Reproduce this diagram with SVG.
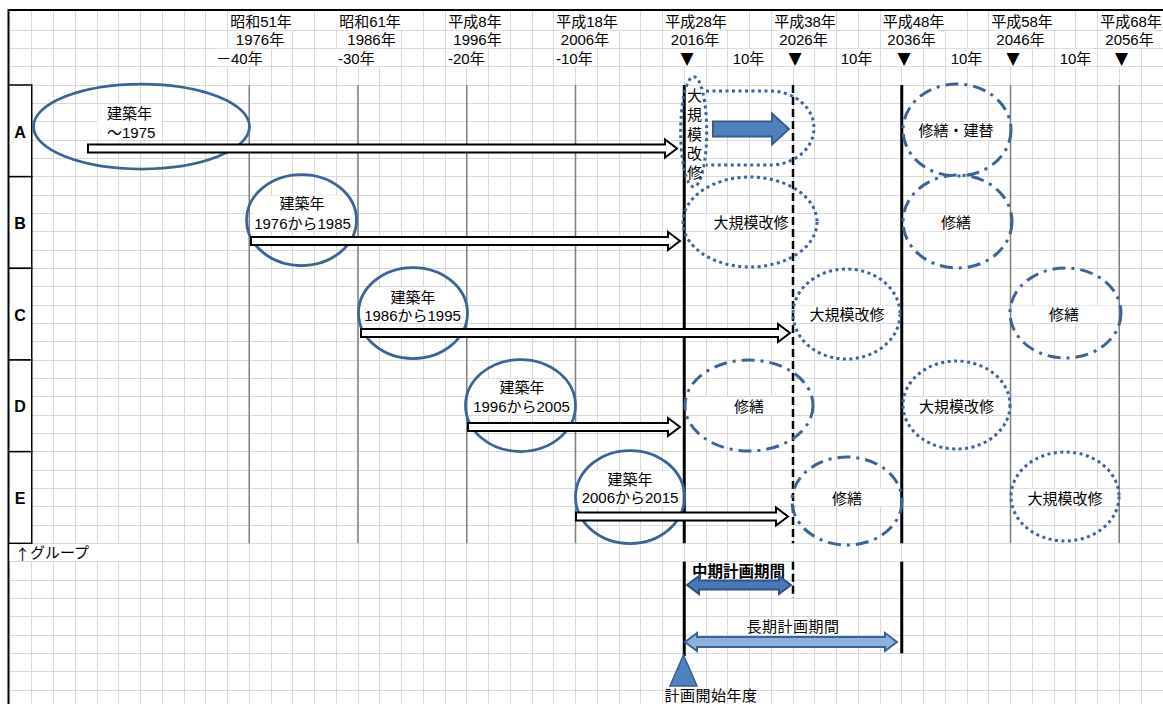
<svg xmlns="http://www.w3.org/2000/svg" width="1163" height="704" viewBox="0 0 1163 704">
<style>
.t{font-family:"Liberation Sans","Noto Sans CJK JP",sans-serif;font-size:15px;fill:#000;dominant-baseline:central}
.tri{font-family:"DejaVu Sans",sans-serif;font-size:17px;fill:#000;text-anchor:middle;dominant-baseline:central}
.m{text-anchor:middle}
.b{font-weight:bold}
.rl{font-family:"Liberation Sans",Arial,sans-serif;font-weight:bold;font-size:16px;text-anchor:middle;dominant-baseline:central}
.bg{fill:#fff;stroke:none}
.grid{stroke:#d9d9d9;stroke-width:1;fill:none}
.gv{stroke:#7f7f7f;stroke-width:1.5}
.bk{stroke:#000;stroke-width:3}
.dsh{stroke:#000;stroke-width:2.5;stroke-dasharray:8 4}
.el{fill:none;stroke:#3b6395;stroke-width:2.75}
.dot{fill:none;stroke:#3b6395;stroke-width:3;stroke-dasharray:3 3.5}
.dd{fill:none;stroke:#3b6395;stroke-width:3;stroke-dasharray:13 6 3 6}
.wa{fill:#fff;stroke:#000;stroke-width:2}
.box{fill:#fff;stroke:#000;stroke-width:1.5}
</style>
<rect width="1163" height="704" fill="#fff"/>
<g id="grid" shape-rendering="crispEdges">
<path class="grid" d="M31.75 10V704M53.5 10V704M75.25 10V704M97 10V704M118.75 10V704M140.5 10V704M162.25 10V704M184 10V704M205.75 10V704M227.5 10V704M249.25 10V704M271 10V704M292.75 10V704M314.5 10V704M336.25 10V704M358 10V704M379.75 10V704M401.5 10V704M423.25 10V704M445 10V704M466.75 10V704M488.5 10V704M510.25 10V704M532 10V704M553.75 10V704M575.5 10V704M597.25 10V704M619 10V704M640.75 10V704M662.5 10V704M684.25 10V704M706 10V704M727.75 10V704M749.5 10V704M771.25 10V704M793 10V704M814.75 10V704M836.5 10V704M858.25 10V704M880 10V704M901.75 10V704M923.5 10V704M945.25 10V704M967 10V704M988.75 10V704M1010.5 10V704M1032.25 10V704M1054 10V704M1075.75 10V704M1097.5 10V704M1119.25 10V704M1141 10V704"/>
<path class="grid" d="M8 30H1163M8 48.33H1163M8 66.67H1163M8 85H1163M8 103.33H1163M8 121.67H1163M8 140H1163M8 158.33H1163M8 176.67H1163M8 195H1163M8 213.33H1163M8 231.67H1163M8 250H1163M8 268.33H1163M8 286.67H1163M8 305H1163M8 323.33H1163M8 341.67H1163M8 360H1163M8 378.33H1163M8 396.67H1163M8 415H1163M8 433.33H1163M8 451.67H1163M8 470H1163M8 488.33H1163M8 506.67H1163M8 525H1163M8 543.33H1163M8 561.67H1163M8 580H1163M8 598.33H1163M8 616.67H1163M8 635H1163M8 653.33H1163M8 671.67H1163M8 690H1163"/>
</g>
<g id="frame">
<line x1="8" y1="10" x2="1163" y2="10" stroke="#000" stroke-width="2"/>
<line x1="8.5" y1="9" x2="8.5" y2="704" stroke="#000" stroke-width="2"/>
</g>
<g id="header">
<g class="hbg">
<rect class="bg" x="228" y="11" width="66" height="18.5"/>
<rect class="bg" x="336" y="11" width="68" height="18.5"/>
<rect class="bg" x="446" y="11" width="58" height="18.5"/>
<rect class="bg" x="555" y="11" width="65" height="18.5"/>
<rect class="bg" x="663" y="11" width="66" height="18.5"/>
<rect class="bg" x="772" y="11" width="64" height="18.5"/>
<rect class="bg" x="881" y="11" width="66" height="18.5"/>
<rect class="bg" x="989" y="11" width="66" height="18.5"/>
<rect class="bg" x="1098" y="11" width="65" height="18.5"/>
<rect class="bg" x="235" y="30.5" width="50" height="17.3"/>
<rect class="bg" x="344" y="30.5" width="55" height="17.3"/>
<rect class="bg" x="453" y="30.5" width="49" height="17.3"/>
<rect class="bg" x="560" y="30.5" width="50" height="17.3"/>
<rect class="bg" x="670" y="30.5" width="50" height="17.3"/>
<rect class="bg" x="778" y="30.5" width="51" height="17.3"/>
<rect class="bg" x="886" y="30.5" width="51" height="17.3"/>
<rect class="bg" x="995" y="30.5" width="51" height="17.3"/>
<rect class="bg" x="1104" y="30.5" width="51" height="17.3"/>
<rect class="bg" x="214" y="48.8" width="49" height="17.4"/>
<rect class="bg" x="336" y="48.8" width="44" height="17.4"/>
<rect class="bg" x="446" y="48.8" width="41" height="17.4"/>
<rect class="bg" x="554" y="48.8" width="41" height="17.4"/>
<rect class="bg" x="679" y="48.8" width="16" height="17.4"/>
<rect class="bg" x="730" y="48.8" width="37" height="17.4"/>
<rect class="bg" x="787" y="48.8" width="16" height="17.4"/>
<rect class="bg" x="838" y="48.8" width="37" height="17.4"/>
<rect class="bg" x="896" y="48.8" width="16" height="17.4"/>
<rect class="bg" x="948" y="48.8" width="37" height="17.4"/>
<rect class="bg" x="1005" y="48.8" width="16" height="17.4"/>
<rect class="bg" x="1057" y="48.8" width="37" height="17.4"/>
<rect class="bg" x="1114" y="48.8" width="16" height="17.4"/>
</g>
<text class="t m" x="261" y="21">昭和51年</text>
<text class="t m" x="370" y="21">昭和61年</text>
<text class="t m" x="475" y="21">平成8年</text>
<text class="t m" x="587" y="21">平成18年</text>
<text class="t m" x="696" y="21">平成28年</text>
<text class="t m" x="805" y="21">平成38年</text>
<text class="t m" x="913.5" y="21">平成48年</text>
<text class="t m" x="1022" y="21">平成58年</text>
<text class="t m" x="1131" y="21">平成68年</text>
<text class="t m" x="260" y="39.5">1976年</text>
<text class="t m" x="371.5" y="39.5">1986年</text>
<text class="t m" x="477.5" y="39.5">1996年</text>
<text class="t m" x="585" y="39.5">2006年</text>
<text class="t m" x="695" y="39.5">2016年</text>
<text class="t m" x="803.5" y="39.5">2026年</text>
<text class="t m" x="911.5" y="39.5">2036年</text>
<text class="t m" x="1020.5" y="39.5">2046年</text>
<text class="t m" x="1129.5" y="39.5">2056年</text>
<text class="t" x="216" y="58">－40年</text>
<text class="t" x="338" y="58">-30年</text>
<text class="t" x="448" y="58">-20年</text>
<text class="t" x="556" y="58">-10年</text>
<text class="tri" x="687" y="58">▼</text>
<text class="tri" x="795" y="58">▼</text>
<text class="tri" x="904" y="58">▼</text>
<text class="tri" x="1013" y="58">▼</text>
<text class="tri" x="1121.5" y="58">▼</text>
<text class="t m" x="748.5" y="58">10年</text>
<text class="t m" x="856.5" y="58">10年</text>
<text class="t m" x="966.5" y="58">10年</text>
<text class="t m" x="1075.5" y="58">10年</text>
</g>
<g id="row-labels">
<rect class="box" x="8.75" y="85" width="23" height="91.67"/>
<rect class="box" x="8.75" y="176.67" width="23" height="91.67"/>
<rect class="box" x="8.75" y="268.33" width="23" height="91.67"/>
<rect class="box" x="8.75" y="360" width="23" height="91.67"/>
<rect class="box" x="8.75" y="451.67" width="23" height="91.67"/>
<text class="rl" x="20" y="132">A</text>
<text class="rl" x="20" y="223.5">B</text>
<text class="rl" x="20" y="315">C</text>
<text class="rl" x="20" y="406.5">D</text>
<text class="rl" x="20" y="498">E</text>
<rect class="bg" x="9.5" y="544" width="130.5" height="17"/>
<text class="t" x="15" y="552.5"><tspan style="font-family:'Noto Sans CJK JP',sans-serif">↑</tspan>グループ</text>
</g>
<g id="label-backgrounds">
<rect class="bg" x="97.5" y="104" width="64" height="35.5"/>
<rect class="bg" x="253" y="195.5" width="99" height="35.7"/>
<rect class="bg" x="363" y="287.2" width="99" height="35.7"/>
<rect class="bg" x="472" y="378.8" width="99" height="35.7"/>
<rect class="bg" x="580" y="470.5" width="100" height="35.7"/>
<rect class="bg" x="686.5" y="86" width="16" height="95"/>
<rect class="bg" x="912" y="122.2" width="88" height="17.3"/>
<rect class="bg" x="706.5" y="213.8" width="86" height="17.4"/>
<rect class="bg" x="905" y="213.8" width="85" height="17.4"/>
<rect class="bg" x="795" y="305.5" width="105" height="17.4"/>
<rect class="bg" x="1013" y="305.5" width="104" height="17.4"/>
<rect class="bg" x="688" y="397.2" width="104" height="17.4"/>
<rect class="bg" x="906" y="397.2" width="102" height="17.4"/>
<rect class="bg" x="796" y="488.8" width="103" height="17.4"/>
<rect class="bg" x="1013" y="488.8" width="104" height="17.4"/>
<rect class="bg" x="688" y="562.5" width="101" height="17"/>
<rect class="bg" x="745" y="617.5" width="97" height="17"/>
</g>
<g id="timeline-lines">
<line class="gv" x1="249.25" y1="85" x2="249.25" y2="543.33"/>
<line class="gv" x1="358" y1="85" x2="358" y2="543.33"/>
<line class="gv" x1="466.75" y1="85" x2="466.75" y2="543.33"/>
<line class="gv" x1="575.5" y1="85" x2="575.5" y2="543.33"/>
<line class="gv" x1="1010.5" y1="85" x2="1010.5" y2="543.33"/>
<line class="gv" x1="1119.25" y1="85" x2="1119.25" y2="543.33"/>
<line class="bk" x1="684.25" y1="85" x2="684.25" y2="543.33"/>
<line class="bk" x1="684.25" y1="561.67" x2="684.25" y2="656"/>
<line class="dsh" x1="793" y1="85" x2="793" y2="543.33"/>
<line class="dsh" x1="793" y1="561.67" x2="793" y2="598"/>
<line class="bk" x1="901.75" y1="85" x2="901.75" y2="543.33"/>
<line class="bk" x1="901.75" y1="561.67" x2="901.75" y2="653.33"/>
</g>
<g id="node-A">
<ellipse class="el" cx="141.5" cy="126.5" rx="108" ry="42.5"/>
<text class="t" x="107" y="113">建築年</text>
<text class="t" x="107" y="132">～1975</text>
<ellipse class="dot" cx="693.7" cy="131.7" rx="13" ry="55"/>
<path class="dot" d="M706 91 H770 A44 37 0 0 1 770 165 H706"/>
<text class="t m" x="694.5" y="95">大</text>
<text class="t m" x="694.5" y="114.5">規</text>
<text class="t m" x="694.5" y="134">模</text>
<text class="t m" x="694.5" y="153.5">改</text>
<text class="t m" x="694.5" y="172.5">修</text>
<path d="M713 121.5 H772 V113.5 L789 129 L772 144.5 V136.5 H713 Z" fill="#4f81bd" stroke="#385d8a" stroke-width="2"/>
<ellipse class="dd" cx="957" cy="130" rx="54" ry="46"/>
<text class="t m" x="956" y="130.5">修繕・建替</text>
</g>
<g id="node-B">
<ellipse class="el" cx="301.5" cy="220" rx="55" ry="45.5"/>
<text class="t m" x="302" y="203">建築年</text>
<text class="t m" x="302.5" y="223">1976から1985</text>
<ellipse class="dot" cx="750" cy="222" rx="67" ry="45"/>
<text class="t m" x="751" y="222.5">大規模改修</text>
<ellipse class="dd" cx="957.5" cy="221.5" rx="54.5" ry="46.5"/>
<text class="t m" x="956" y="222.5">修繕</text>
</g>
<g id="node-C">
<ellipse class="el" cx="413" cy="313" rx="54.5" ry="45.5"/>
<text class="t m" x="413" y="297">建築年</text>
<text class="t m" x="412.5" y="315">1986から1995</text>
<ellipse class="dot" cx="846.5" cy="314" rx="53.5" ry="45"/>
<text class="t m" x="847" y="314.5">大規模改修</text>
<ellipse class="dd" cx="1065.5" cy="313" rx="55.5" ry="45"/>
<text class="t m" x="1064" y="314.5">修繕</text>
</g>
<g id="node-D">
<ellipse class="el" cx="520.5" cy="405.5" rx="55" ry="46"/>
<text class="t m" x="522" y="387">建築年</text>
<text class="t m" x="521.5" y="406">1996から2005</text>
<ellipse class="dd" cx="749" cy="405.5" rx="64" ry="45.5"/>
<text class="t m" x="749" y="406">修繕</text>
<ellipse class="dot" cx="956.5" cy="405" rx="53.5" ry="44"/>
<text class="t m" x="956.5" y="406.5">大規模改修</text>
</g>
<g id="node-E">
<ellipse class="el" cx="630" cy="497" rx="54.5" ry="46.5"/>
<text class="t m" x="630" y="479">建築年</text>
<text class="t m" x="630" y="497">2006から2015</text>
<ellipse class="dd" cx="847" cy="501" rx="55" ry="44"/>
<text class="t m" x="847" y="498">修繕</text>
<ellipse class="dot" cx="1065" cy="496.5" rx="54" ry="44.5"/>
<text class="t m" x="1065" y="498">大規模改修</text>
</g>
<g id="connectors">
<path class="wa" d="M88 144.5 H665 V139.5 L677 148.5 L665 157.5 V152.5 H88 Z"/>
<path class="wa" d="M251 237 H668 V232 L680 241 L668 250 V245 H251 Z"/>
<path class="wa" d="M361 329 H778 V324 L790 333 L778 342 V337 H361 Z"/>
<path class="wa" d="M468 423 H668 V418 L680 427 L668 436 V431 H468 Z"/>
<path class="wa" d="M576 512.5 H776 V507.5 L788 516.5 L776 525.5 V520.5 H576 Z"/>
</g>
<g id="periods">
<text class="t m b" x="738.5" y="571.5" style="font-size:15.5px">中期計画期間</text>
<path d="M687 585 L699 576 V580.5 H779 V576 L791 585 L779 594 V589.5 H699 V594 Z" fill="#4a78b5" stroke="#2d5286" stroke-width="2"/>
<text class="t m" x="793" y="626.5" style="letter-spacing:0.5px">長期計画期間</text>
<path d="M685 642 L697 633 V637 H885 V633 L897 642 L885 651 V647 H697 V651 Z" fill="#8eb1dd" stroke="#3b6395" stroke-width="2"/>
</g>
<g id="start-marker">
<path d="M683.5 655 L697 686 L670 686 Z" fill="#4f81bd" stroke="#385d8a" stroke-width="1.5"/>
<text class="t m" x="711" y="695.5" style="letter-spacing:0.5px">計画開始年度</text>
</g>
</svg>
